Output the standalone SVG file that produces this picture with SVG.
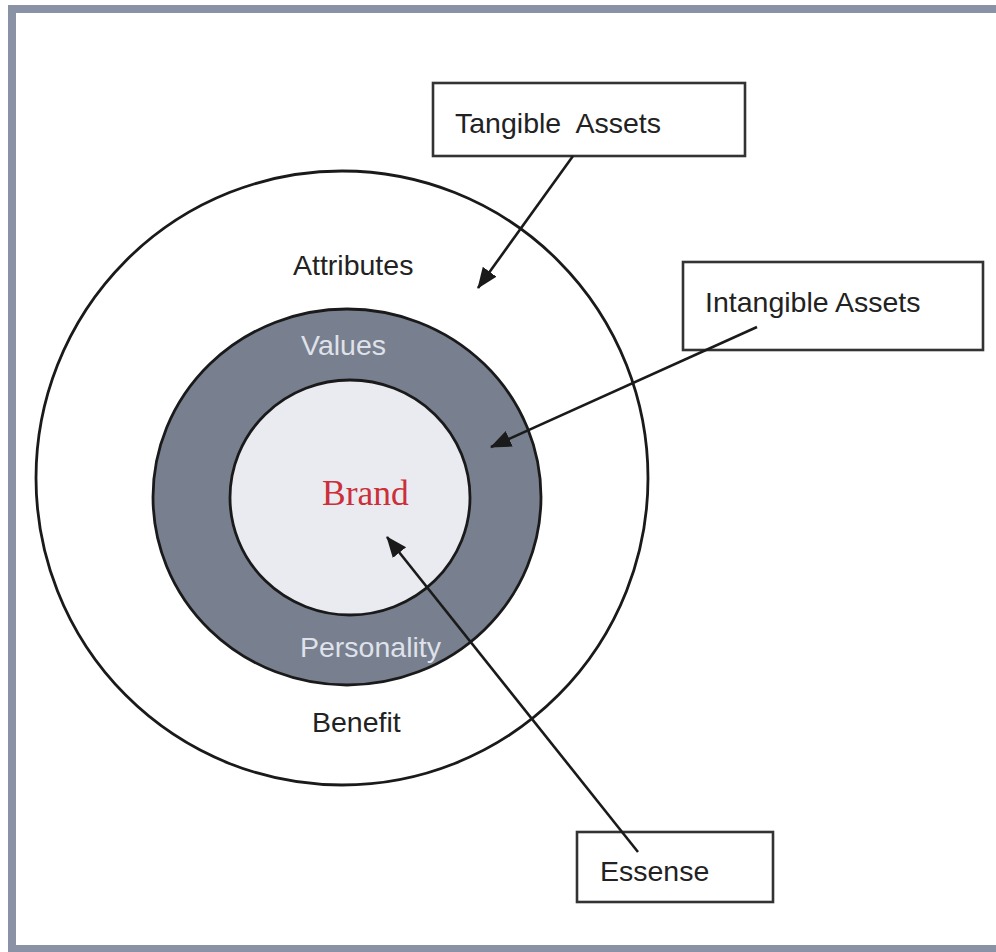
<svg xmlns="http://www.w3.org/2000/svg" width="996" height="952" viewBox="0 0 996 952">
  <style>
    .lbl { font-family: "Liberation Sans", Arial, sans-serif; font-size: 28.5px; fill: #222; }
    .lite { fill: #dfe2ea; }
    .box { fill: #fff; stroke: #333; stroke-width: 2.6; }
    .ring { stroke: #1a1a1a; stroke-width: 2.8; }
    .conn { stroke: #1a1a1a; stroke-width: 2.6; fill: none; marker-end: url(#head); }
  </style>
  <defs>
    <marker id="head" markerUnits="userSpaceOnUse" markerWidth="22" markerHeight="18" refX="20" refY="8.5" orient="auto">
      <path d="M0,0 L21,8.5 L0,17 z" fill="#1a1a1a"/>
    </marker>
  </defs>

  <rect width="996" height="952" fill="#fff"/>
  <!-- page frame -->
  <rect x="12" y="9" width="1000" height="940" fill="none" stroke="#8a93a6" stroke-width="8"/>

  <!-- concentric brand layers -->
  <g id="attributes-layer">
    <ellipse cx="342" cy="478" rx="306" ry="307" fill="#fff" class="ring"/>
    <text class="lbl" x="293" y="275">Attributes</text>
    <text class="lbl" x="312" y="732">Benefit</text>
  </g>
  <g id="values-layer">
    <ellipse cx="347" cy="497" rx="194" ry="188" fill="#787f8e" class="ring"/>
    <text class="lbl lite" x="301" y="355">Values</text>
    <text class="lbl lite" x="300" y="657">Personality</text>
  </g>
  <g id="brand-core">
    <ellipse cx="350" cy="497.5" rx="120" ry="117.5" fill="#e9ebf1" class="ring"/>
    <text x="322" y="505" font-family="'Liberation Serif', 'Times New Roman', serif" font-size="35.5" fill="#cc2f3a">Brand</text>
  </g>

  <!-- callout boxes -->
  <g id="tangible-assets">
    <rect class="box" x="433" y="83" width="312" height="73"/>
    <text class="lbl" x="455" y="133" xml:space="preserve">Tangible  Assets</text>
  </g>
  <g id="intangible-assets">
    <rect class="box" x="683" y="262" width="300" height="88"/>
    <text class="lbl" x="705" y="312">Intangible Assets</text>
  </g>
  <g id="essense">
    <rect class="box" x="577" y="832" width="196" height="70"/>
    <text class="lbl" x="600" y="881">Essense</text>
  </g>

  <!-- connectors -->
  <g id="connectors">
    <line class="conn" x1="573" y1="156" x2="478" y2="288"/>
    <line class="conn" x1="757" y1="327" x2="491" y2="447"/>
    <line class="conn" x1="638" y1="852" x2="387" y2="537"/>
  </g>
</svg>
